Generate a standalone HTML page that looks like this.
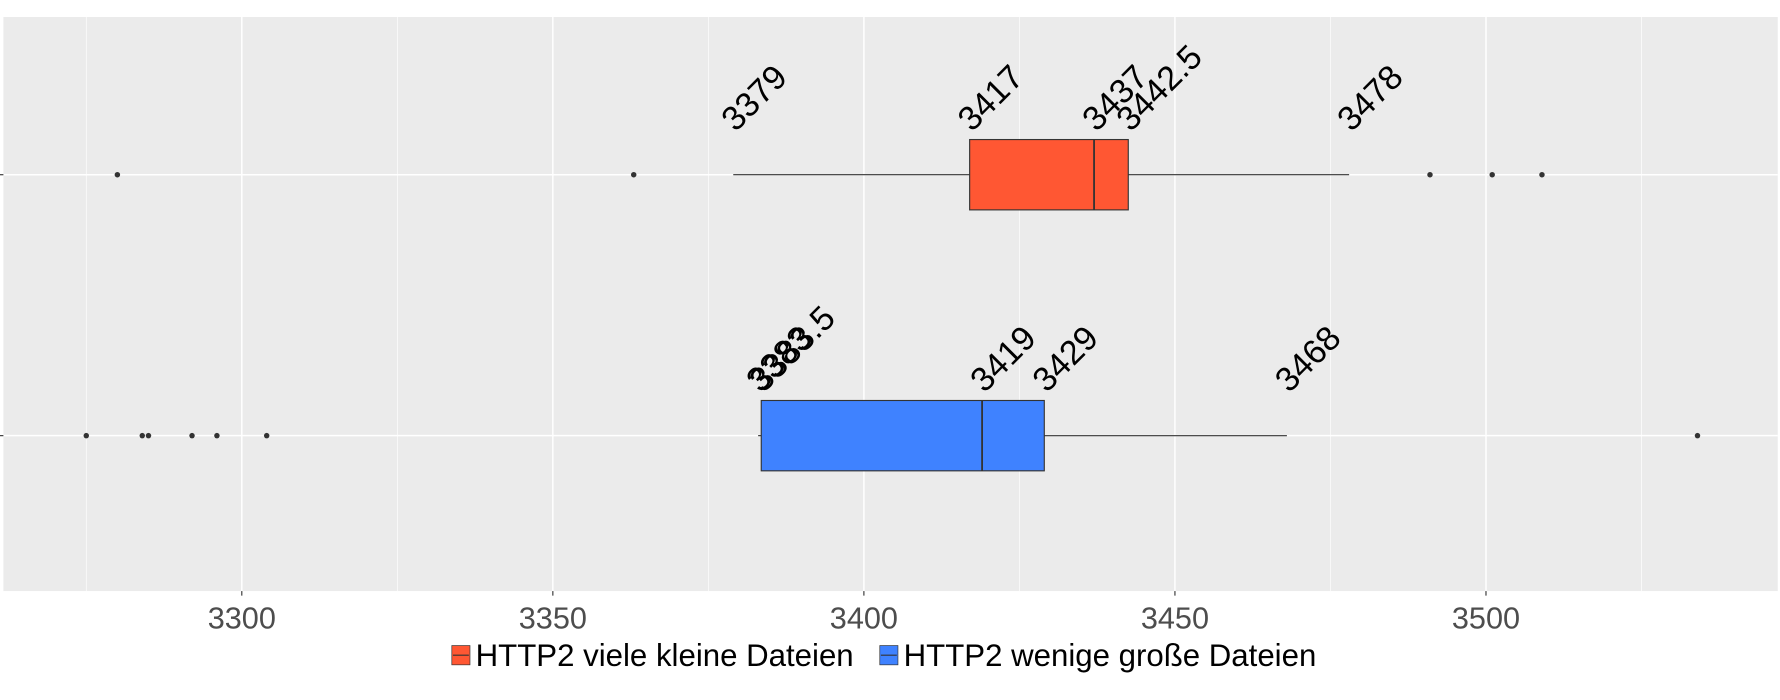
<!DOCTYPE html>
<html><head><meta charset="utf-8"><style>
html,body{margin:0;padding:0;background:#fff;width:1780px;height:700px;overflow:hidden}
svg{display:block}
text{font-family:"Liberation Sans",Arial,sans-serif}
</style></head><body>
<svg id="chart" width="1780" height="700" viewBox="0 0 1568 617" preserveAspectRatio="none" xmlns="http://www.w3.org/2000/svg"></svg>
<script>
const categories = ["HTTP2 viele kleine Dateien", "HTTP2 wenige große Dateien"];
const colors = ["#FF5733", "#3F82FF"];
const whiskerLow = [3379, 3383];
const q1 = [3417, 3383.5];
const median = [3437, 3419];
const q3 = [3442.5, 3429];
const whiskerHigh = [3478, 3468];
const outliers = [[3280, 3363, 3491, 3501, 3509], [3275, 3284, 3285, 3292, 3296, 3304, 3534]];
const xTicks = [3300, 3350, 3400, 3450, 3500];
const xMinor = [3275, 3325, 3375, 3425, 3475, 3525];

const NS = "http://www.w3.org/2000/svg";
const svg = document.getElementById("chart");
const P = {l: 3, r: 1566, t: 15, b: 521};
const x = v => 213 + (v - 3300) * 5.48;
const rowY = [154, 384];
const halfH = 31;
function mk(tag, attrs, parent) {
  const e = document.createElementNS(NS, tag);
  for (const k in attrs) e.setAttribute(k, attrs[k]);
  (parent || svg).appendChild(e);
  return e;
}
const bg = mk("rect", {x: P.l, y: P.t, width: P.r - P.l, height: P.b - P.t, fill: "#EBEBEB"});


xMinor.forEach(v => {
  const l = mk("line", {x1: x(v), x2: x(v), y1: P.t, y2: P.b, stroke: "#fff", "stroke-width": 0.6});
  
  
});
xTicks.forEach(v => {
  const l = mk("line", {x1: x(v), x2: x(v), y1: P.t, y2: P.b, stroke: "#fff", "stroke-width": 1.3});
  
  
  const tk = mk("line", {x1: x(v), x2: x(v), y1: P.b, y2: P.b + 4, stroke: "#333", "stroke-width": 1});
  
  
  const t = mk("text", {x: x(v), y: 554, "text-anchor": "middle", "font-size": 27, fill: "#4D4D4D"});
  t.textContent = v;
  
  
});
rowY.forEach(y => {
  const l = mk("line", {x1: P.l, x2: P.r, y1: y, y2: y, stroke: "#fff", "stroke-width": 1.3});
  
  
  const tk = mk("line", {x1: 0, x2: P.l, y1: y, y2: y, stroke: "#333", "stroke-width": 1});
  
  
});
categories.forEach((c, i) => {
  const y = rowY[i];
  const g = mk("g", {});
  
  
  mk("line", {x1: x(whiskerLow[i]), x2: x(q1[i]), y1: y, y2: y, stroke: "#333", "stroke-width": 1}, g);
  mk("line", {x1: x(q3[i]), x2: x(whiskerHigh[i]), y1: y, y2: y, stroke: "#333", "stroke-width": 1}, g);
  mk("rect", {x: x(q1[i]), y: y - halfH, width: x(q3[i]) - x(q1[i]), height: 2 * halfH, fill: colors[i], stroke: "#333", "stroke-width": 1}, g);
  mk("line", {x1: x(median[i]), x2: x(median[i]), y1: y - halfH, y2: y + halfH, stroke: "#333", "stroke-width": 1.6}, g);
  outliers[i].forEach(o => {
    const p = mk("circle", {cx: x(o), cy: y, r: 2.4, fill: "#333"});
    
    
  });
  [whiskerLow[i], q1[i], median[i], q3[i], whiskerHigh[i]].forEach(v => {
    const tx = x(v) + 2, ty = y - 37;
    const t = mk("text", {x: tx, y: ty, "font-size": 30, fill: "#000", transform: `rotate(-45 ${tx} ${ty})`});
    t.textContent = v;
    
    
  });
});
// legend
const legX = [398, 775];
categories.forEach((c, i) => {
  const g = mk("g", {});
  
  
  mk("rect", {x: legX[i], y: 569, width: 16, height: 17, fill: colors[i], stroke: "#333", "stroke-width": 0.6}, g);
  mk("line", {x1: legX[i] + 1, x2: legX[i] + 15, y1: 577.5, y2: 577.5, stroke: "#333", "stroke-width": 1}, g);
  const t = mk("text", {x: legX[i] + 21, y: 587, "font-size": 27.5, fill: "#000"}, g);
  t.textContent = c;
});
</script>
</body></html>
